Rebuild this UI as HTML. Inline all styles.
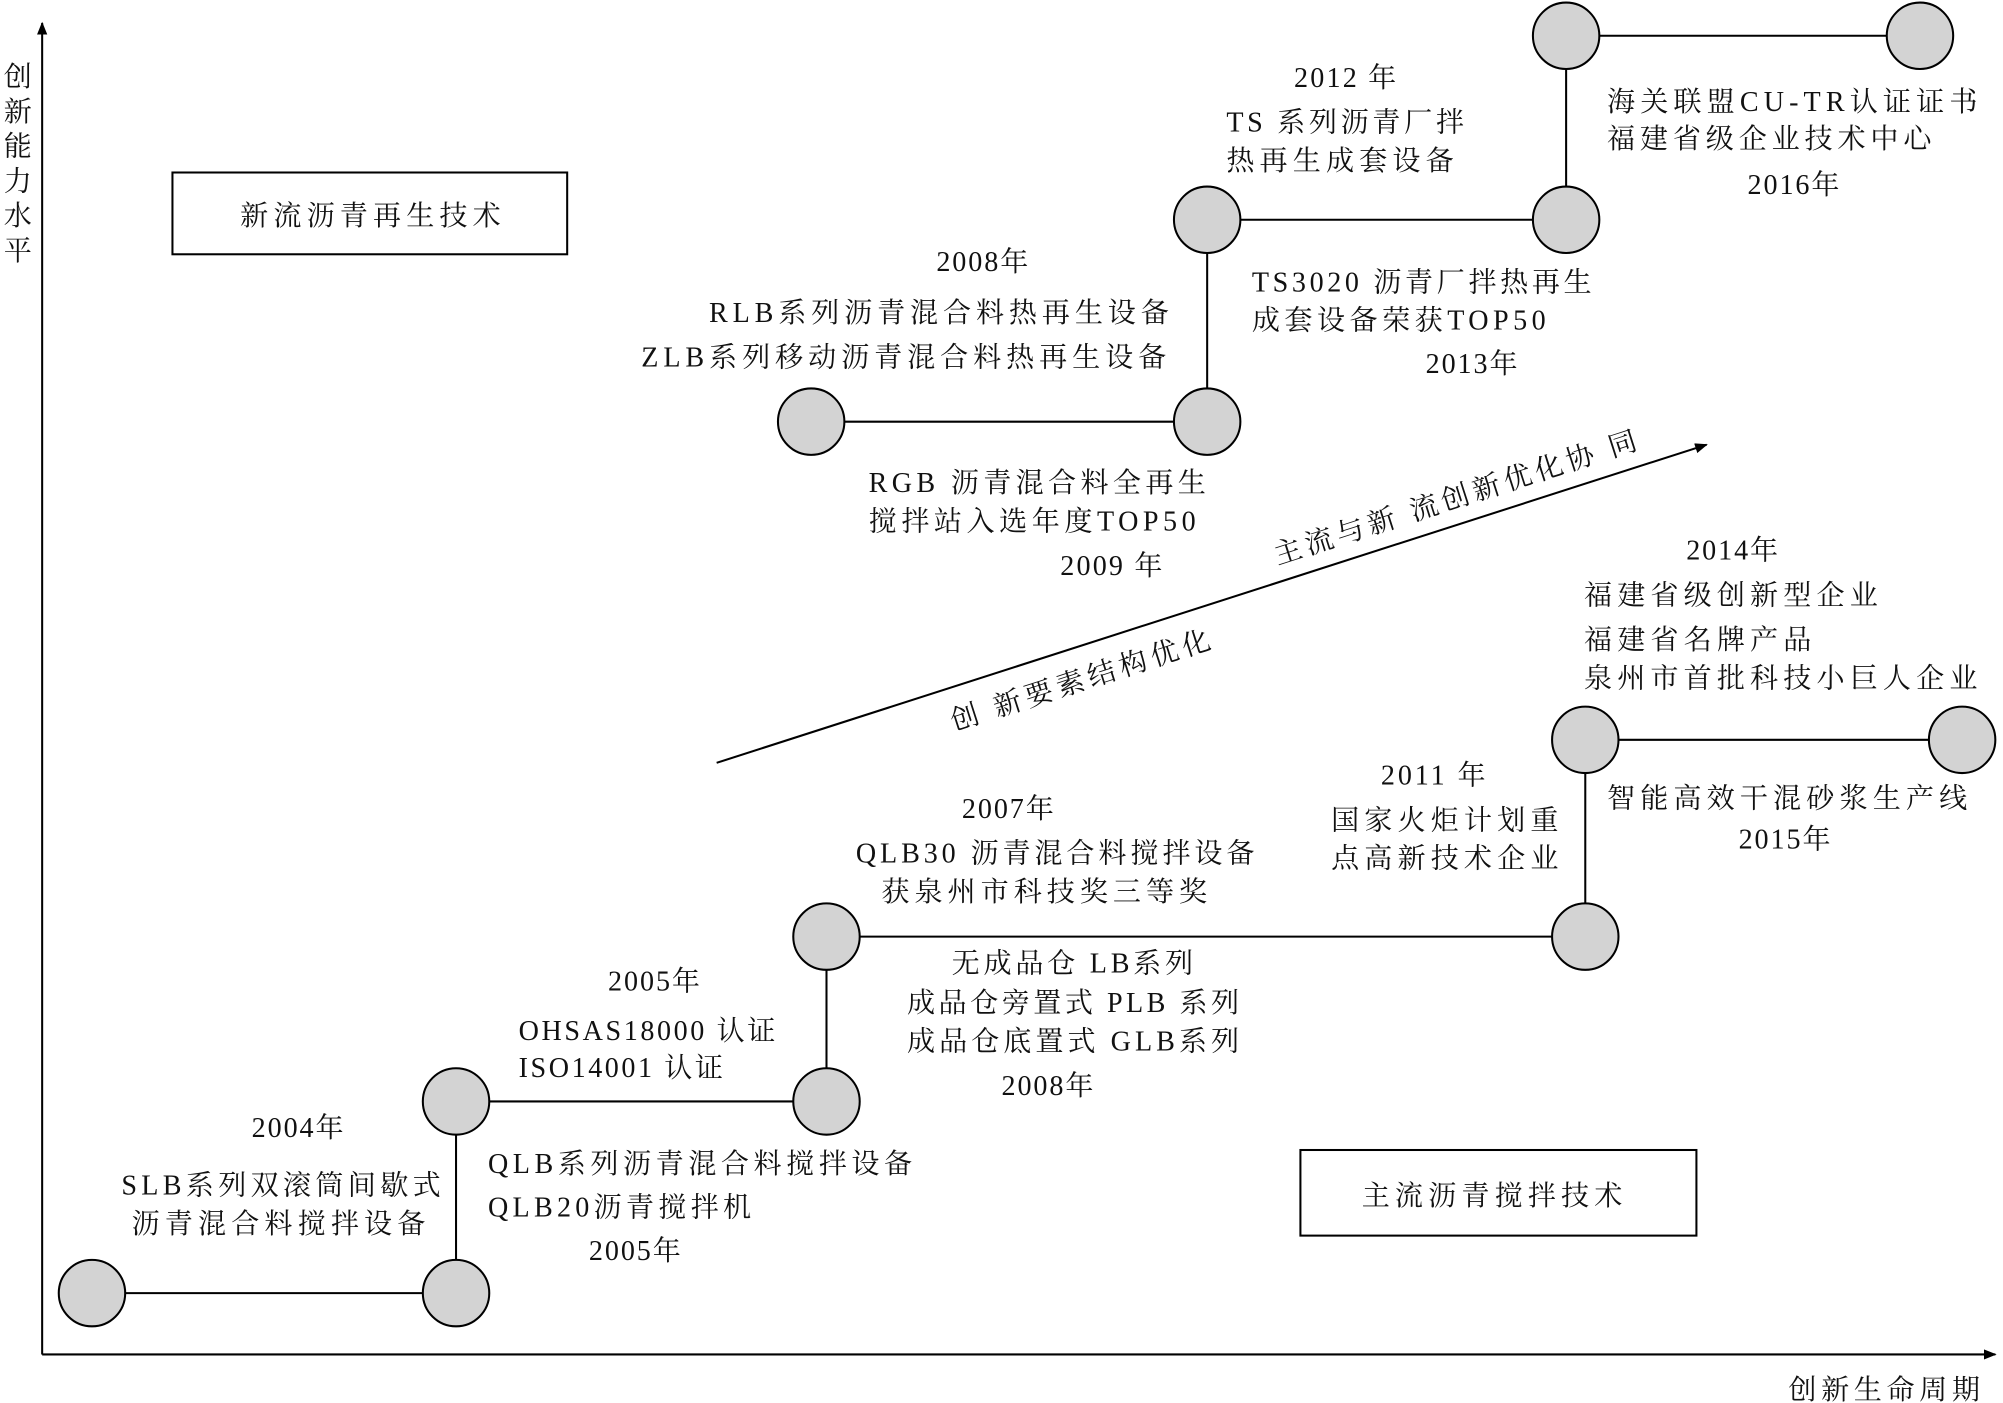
<!DOCTYPE html>
<html><head><meta charset="utf-8"><style>
html,body{margin:0;padding:0;background:#fff;}
svg{display:block;}
text{font-family:"Liberation Serif","Noto Serif CJK SC",serif;font-size:22px;fill:#111;}
</style></head><body>
<svg width="2003" height="1403" viewBox="0 0 1568 1098" preserveAspectRatio="none" xmlns="http://www.w3.org/2000/svg">
<defs><marker id="ar" markerWidth="10" markerHeight="8" refX="9" refY="4" orient="auto" markerUnits="userSpaceOnUse"><path d="M0,0 L10,4 L0,8 Z" fill="#000"/></marker></defs>
<g stroke="#000" stroke-width="1.6" fill="none">
<line x1="33" y1="1060" x2="33" y2="18" marker-end="url(#ar)"/>
<line x1="33" y1="1060" x2="1562" y2="1060" marker-end="url(#ar)"/>
<line x1="561" y1="597" x2="1336" y2="348" marker-end="url(#ar)"/>
<polyline points="72,1012 357,1012 357,862 647,862 647,733 1241,733 1241,579 1536,579"/>
<polyline points="635,330 945,330 945,172 1226,172 1226,28 1503,28"/>
<rect x="135" y="135" width="309" height="64"/>
<rect x="1018" y="900" width="310" height="67"/>
</g>
<g fill="#d3d3d3" stroke="#000" stroke-width="1.6">
<circle cx="72" cy="1012" r="26"/><circle cx="357" cy="1012" r="26"/><circle cx="357" cy="862" r="26"/><circle cx="647" cy="862" r="26"/><circle cx="647" cy="733" r="26"/><circle cx="1241" cy="733" r="26"/><circle cx="1241" cy="579" r="26"/><circle cx="1536" cy="579" r="26"/>
<circle cx="635" cy="330" r="26"/><circle cx="945" cy="330" r="26"/><circle cx="945" cy="172" r="26"/><circle cx="1226" cy="172" r="26"/><circle cx="1226" cy="28" r="26"/><circle cx="1503" cy="28" r="26"/>
</g>
<g>
<text x="12" y="48" style="writing-mode:tb" textLength="158" lengthAdjust="spacing">创新能力水平</text>
<text x="1400" y="1095" textLength="150" lengthAdjust="spacing">创新生命周期</text>
<text x="188" y="176" textLength="204" lengthAdjust="spacing">新流沥青再生技术</text>
<text x="1066" y="943" textLength="204" lengthAdjust="spacing">主流沥青搅拌技术</text>
<text transform="translate(1000,442) rotate(-17.8)" textLength="297" lengthAdjust="spacing">主流与新 流创新优化协 同</text>
<text transform="translate(747,572) rotate(-17.8)" textLength="212" lengthAdjust="spacing">创 新要素结构优化</text>

<text x="197" y="890" textLength="72" lengthAdjust="spacing">2004年</text>
<text x="95" y="935" textLength="250" lengthAdjust="spacing">SLB系列双滚筒间歇式</text>
<text x="103" y="965" textLength="230" lengthAdjust="spacing">沥青混合料搅拌设备</text>
<text x="476" y="775" textLength="72" lengthAdjust="spacing">2005年</text>
<text x="406" y="814" textLength="201" lengthAdjust="spacing">OHSAS18000 认证</text>
<text x="406" y="843" textLength="160" lengthAdjust="spacing">ISO14001 认证</text>
<text x="382" y="918" textLength="332" lengthAdjust="spacing">QLB系列沥青混合料搅拌设备</text>
<text x="382" y="952" textLength="206" lengthAdjust="spacing">QLB20沥青搅拌机</text>
<text x="461" y="986" textLength="72" lengthAdjust="spacing">2005年</text>
<text x="753" y="640" textLength="72" lengthAdjust="spacing">2007年</text>
<text x="670" y="675" textLength="312" lengthAdjust="spacing">QLB30 沥青混合料搅拌设备</text>
<text x="690" y="705" textLength="255" lengthAdjust="spacing">获泉州市科技奖三等奖</text>
<text x="745" y="761" textLength="189" lengthAdjust="spacing">无成品仓 LB系列</text>
<text x="710" y="792" textLength="260" lengthAdjust="spacing">成品仓旁置式 PLB 系列</text>
<text x="710" y="822" textLength="260" lengthAdjust="spacing">成品仓底置式 GLB系列</text>
<text x="784" y="857" textLength="72" lengthAdjust="spacing">2008年</text>
<text x="1081" y="614" textLength="82" lengthAdjust="spacing">2011 年</text>
<text x="1042" y="649" textLength="178" lengthAdjust="spacing">国家火炬计划重</text>
<text x="1042" y="679" textLength="178" lengthAdjust="spacing">点高新技术企业</text>
<text x="1320" y="438" textLength="72" lengthAdjust="spacing">2014年</text>
<text x="1240" y="473" textLength="230" lengthAdjust="spacing">福建省级创新型企业</text>
<text x="1240" y="508" textLength="178" lengthAdjust="spacing">福建省名牌产品</text>
<text x="1240" y="538" textLength="308" lengthAdjust="spacing">泉州市首批科技小巨人企业</text>
<text x="1258" y="632" textLength="282" lengthAdjust="spacing">智能高效干混砂浆生产线</text>
<text x="1361" y="664" textLength="72" lengthAdjust="spacing">2015年</text>
<text x="733" y="212" textLength="72" lengthAdjust="spacing">2008年</text>
<text x="555" y="252" textLength="360" lengthAdjust="spacing">RLB系列沥青混合料热再生设备</text>
<text x="502" y="287" textLength="411" lengthAdjust="spacing">ZLB系列移动沥青混合料热再生设备</text>
<text x="680" y="385" textLength="264" lengthAdjust="spacing">RGB 沥青混合料全再生</text>
<text x="680" y="415" textLength="256" lengthAdjust="spacing">搅拌站入选年度TOP50</text>
<text x="830" y="450" textLength="80" lengthAdjust="spacing">2009 年</text>
<text x="1013" y="68" textLength="80" lengthAdjust="spacing">2012 年</text>
<text x="960" y="103" textLength="186" lengthAdjust="spacing">TS 系列沥青厂拌</text>
<text x="960" y="133" textLength="178" lengthAdjust="spacing">热再生成套设备</text>
<text x="980" y="228" textLength="266" lengthAdjust="spacing">TS3020 沥青厂拌热再生</text>
<text x="980" y="258" textLength="230" lengthAdjust="spacing">成套设备荣获TOP50</text>
<text x="1116" y="292" textLength="72" lengthAdjust="spacing">2013年</text>
<text x="1258" y="87" textLength="290" lengthAdjust="spacing">海关联盟CU-TR认证证书</text>
<text x="1258" y="116" textLength="254" lengthAdjust="spacing">福建省级企业技术中心</text>
<text x="1368" y="152" textLength="72" lengthAdjust="spacing">2016年</text>
</g>
</svg>
</body></html>
